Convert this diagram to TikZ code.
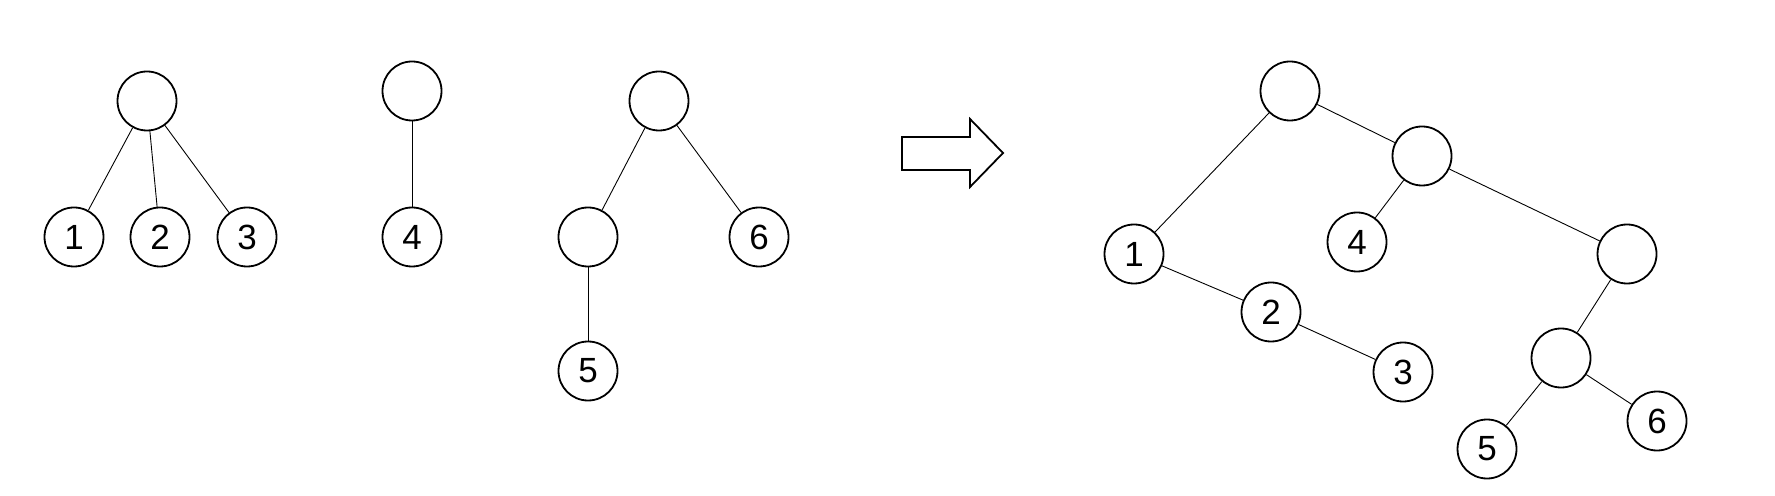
\documentclass[tikz,border=0pt]{standalone}
\usepackage{fontspec}
\setmainfont{Liberation Sans}
\begin{document}
\begin{tikzpicture}[x=0.5pt,y=-0.5pt,
  vtx/.style={circle,draw,line width=0.9pt,minimum size=29.5pt,inner sep=0pt,font=\fontsize{17.5}{17.5}\selectfont},
  edge/.style={line width=0.45pt}]
\useasboundingbox (0,0) rectangle (1775,496);
% tree 1
\node[vtx] (r1) at (147,101) {};
\node[vtx] (a1) at (74,237) {1};
\node[vtx] (a2) at (160,237) {2};
\node[vtx] (a3) at (247,237) {3};
\draw[edge] (r1) -- (a1);
\draw[edge] (r1) -- (a2);
\draw[edge] (r1) -- (a3);
% tree 2
\node[vtx] (r2) at (412,91) {};
\node[vtx] (a4) at (412,237) {4};
\draw[edge] (r2) -- (a4);
% tree 3
\node[vtx] (r3) at (659,101) {};
\node[vtx] (m3) at (588,237) {};
\node[vtx] (a6) at (759,237) {6};
\node[vtx] (a5) at (588,371) {5};
\draw[edge] (r3) -- (m3);
\draw[edge] (r3) -- (a6);
\draw[edge] (m3) -- (a5);
% arrow
\draw[line width=0.9pt] (902,137) -- (970,137) -- (970,119) -- (1003,153) -- (970,187) -- (970,170) -- (902,170) -- cycle;
% result tree
\node[vtx] (R) at (1290,91) {};
\node[vtx] (A) at (1422,156) {};
\node[vtx] (b1) at (1134,254) {1};
\node[vtx] (b4) at (1357,242) {4};
\node[vtx] (B) at (1627,254) {};
\node[vtx] (b2) at (1271,312) {2};
\node[vtx] (b3) at (1403,372) {3};
\node[vtx] (C) at (1561,358) {};
\node[vtx] (b5) at (1487,449) {5};
\node[vtx] (b6) at (1657,421) {6};
\draw[edge] (R) -- (b1);
\draw[edge] (R) -- (A);
\draw[edge] (A) -- (b4);
\draw[edge] (A) -- (B);
\draw[edge] (b1) -- (b2);
\draw[edge] (b2) -- (b3);
\draw[edge] (B) -- (C);
\draw[edge] (C) -- (b5);
\draw[edge] (C) -- (b6);
\end{tikzpicture}
\end{document}
